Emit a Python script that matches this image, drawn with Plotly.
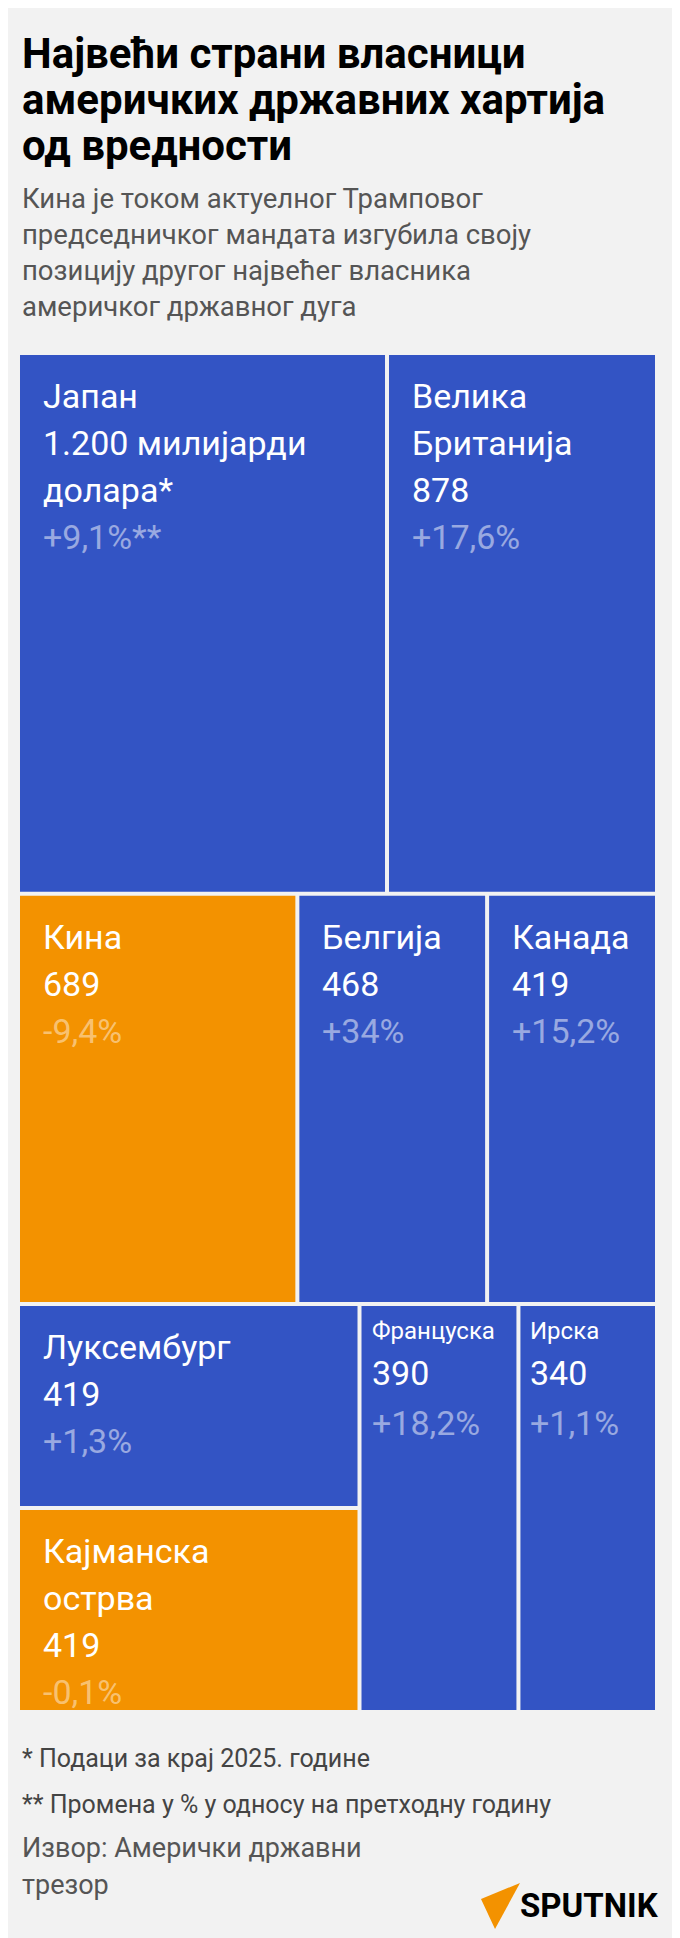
import plotly.graph_objects as go

names = ["Јапан", "Велика Британија", "Кина", "Белгија", "Канада", "Луксембург", "Кајманска острва", "Француска", "Ирска"]
label_lines = [["Јапан", "1.200 милијарди", "долара*"], ["Велика", "Британија", "878"], ["Кина", "689"], ["Белгија", "468"],
               ["Канада", "419"], ["Луксембург", "419"], ["Кајманска", "острва", "419"], ["Француска", "390"], ["Ирска", "340"]]
values = [1200, 878, 689, 468, 419, 419, 419, 390, 340]
changes = ["+9,1%**", "+17,6%", "-9,4%", "+34%", "+15,2%", "+1,3%", "-0,1%", "+18,2%", "+1,1%"]
small_name = [False, False, False, False, False, False, False, True, True]
rows = [[[0], [1]], [[2], [3], [4]], [[5, 6], [7], [8]]]

BLUE, ORANGE = "#3354c4", "#f39200"
BG = "#f2f2f2"
X0, X1, Y0, Y1, GAP = 12, 651, 347, 1706, 4

fig = go.Figure()
shapes, ann = [], []
total = sum(values)
y = Y0
for row in rows:
    rsum = sum(values[i] for col in row for i in col)
    h = (Y1 - Y0) * rsum / total
    x = X0
    for col in row:
        csum = sum(values[i] for i in col)
        w = (X1 - X0) * csum / rsum
        yy = y
        for i in col:
            hh = h * values[i] / csum
            neg = changes[i].startswith("-")
            shapes.append(dict(type="rect", xref="x", yref="y", x0=x, x1=x + w - GAP, y0=yy, y1=yy + hh - GAP,
                               fillcolor=ORANGE if neg else BLUE, line=dict(width=0), layer="below"))
            lines = label_lines[i]
            pc = "rgba(255,255,255,0.5)" if not neg else "rgba(255,255,255,0.45)"
            if small_name[i]:
                offs = [25, 67, 117]
                sizes = [24, 34, 34]
                pad = 8
            else:
                offs = [41 + 47 * k for k in range(len(lines) + 1)]
                sizes = [34] * (len(lines) + 1)
                pad = 21
            texts = lines + [changes[i]]
            for k, t in enumerate(texts):
                ann.append(dict(x=x + pad, y=yy + offs[k], xref="x", yref="y", text=t, showarrow=False,
                                xanchor="left", yanchor="middle",
                                font=dict(family="Roboto", size=sizes[k], color=pc if k == len(texts) - 1 else "white")))
            yy += hh
        x += w
    y += h

title = ["Највећи страни власници", "америчких државних хартија", "од вредности"]
for k, t in enumerate(title):
    ann.append(dict(x=12, y=45 + 46 * k, xref="x", yref="y", text="<b>" + t + "</b>", showarrow=False,
                    xanchor="left", yanchor="middle", font=dict(family="Roboto", size=42, color="#000")))
sub = ["Кина је током актуелног Трамповог", "председничког мандата изгубила своју",
       "позицију другог највећег власника", "америчког државног дуга"]
for k, t in enumerate(sub):
    ann.append(dict(x=12, y=190 + 36 * k, xref="x", yref="y", text=t, showarrow=False, xanchor="left", yanchor="middle",
                    font=dict(family="Roboto", size=27.5, color="#555")))
foot = [("* Подаци за крај 2025. године", 1750), ("** Промена у % у односу на претходну годину", 1796)]
for t, yy in foot:
    ann.append(dict(x=12, y=yy, xref="x", yref="y", text=t, showarrow=False, xanchor="left", yanchor="middle",
                    font=dict(family="Roboto", size=25, color="#444")))
for t, yy in [("Извор: Амерички државни", 1840), ("трезор", 1877)]:
    ann.append(dict(x=12, y=yy, xref="x", yref="y", text=t, showarrow=False, xanchor="left", yanchor="middle",
                    font=dict(family="Roboto", size=27, color="#555")))
ann.append(dict(x=653, y=1897, xref="x", yref="y", text="<b>SPUTNIK</b>", showarrow=False, xanchor="right",
                yanchor="middle", font=dict(family="Roboto", size=33, color="#000")))
shapes.append(dict(type="path", xref="x", yref="y", path="M 473 1891 L 512 1875 L 487 1921 Z",
                   fillcolor=ORANGE, line=dict(width=0)))

fig.update_layout(width=680, height=1938, margin=dict(l=0, r=0, t=0, b=0), paper_bgcolor=BG, plot_bgcolor=BG,
                  shapes=shapes, annotations=ann, showlegend=False,
                  xaxis=dict(range=[0, 680], visible=False, fixedrange=True),
                  yaxis=dict(range=[1938, 0], visible=False, fixedrange=True))
fig.write_html("out.html")
